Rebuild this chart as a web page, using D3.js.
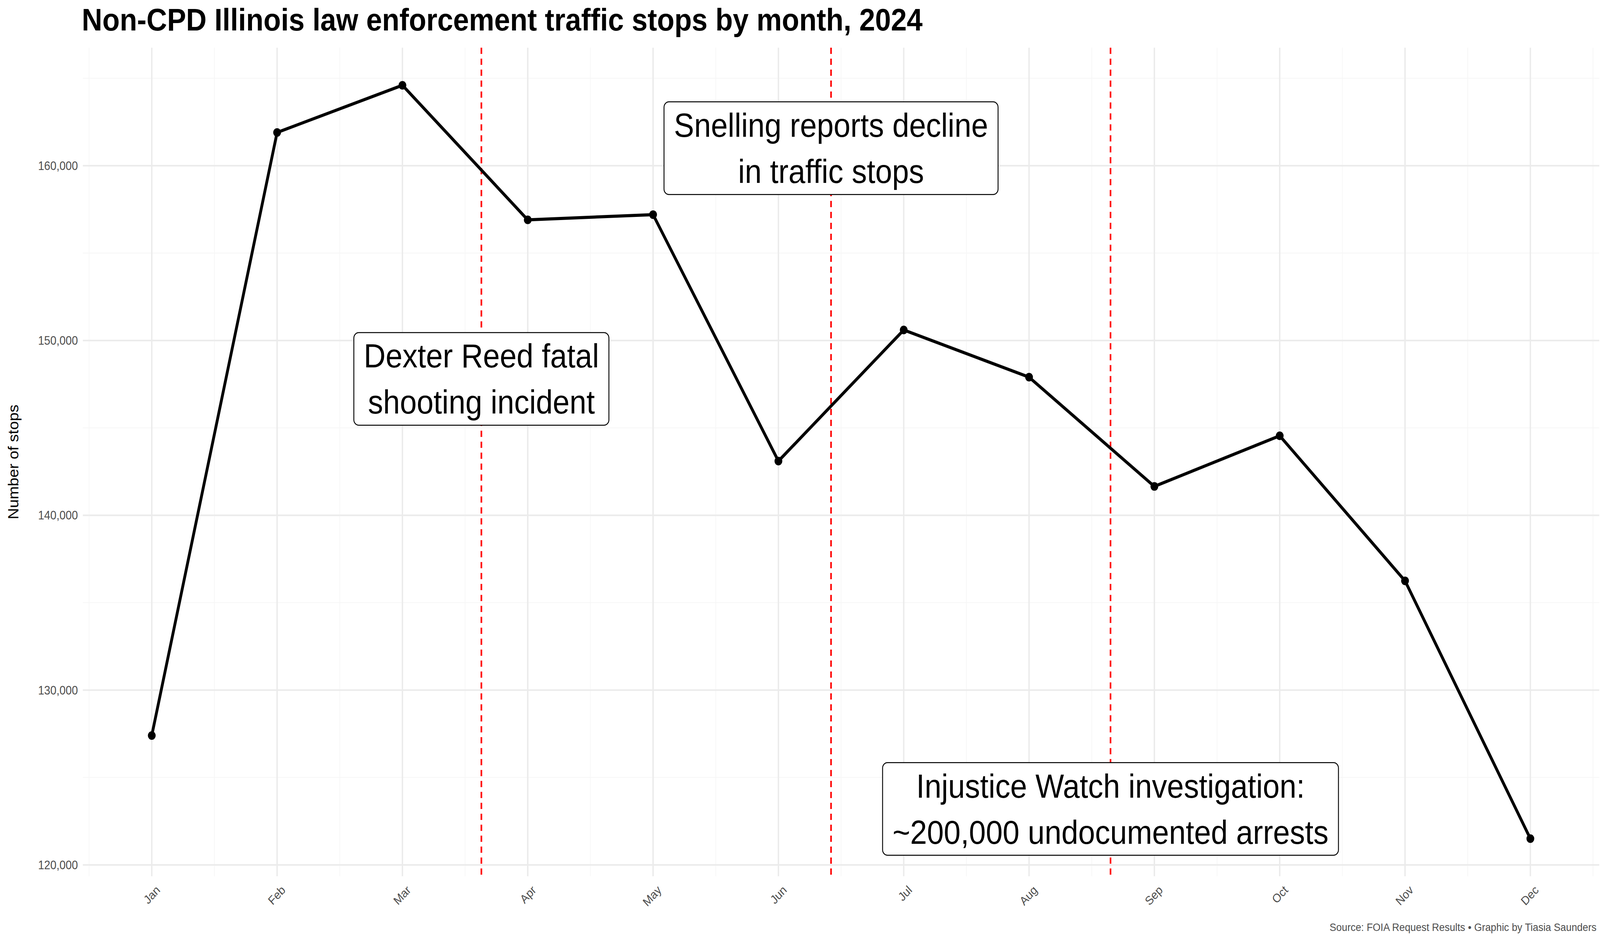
<!DOCTYPE html><html><head><meta charset="utf-8">
<script src="https://cdn.jsdelivr.net/npm/d3@7"></script>
<style>html,body{margin:0;padding:0;background:#fff;overflow:hidden}svg{display:block;width:100vw;height:100vh}text{font-family:"Liberation Sans",Arial,sans-serif}</style></head><body>
<script>
const months=["Jan","Feb","Mar","Apr","May","Jun","Jul","Aug","Sep","Oct","Nov","Dec"];
const stops=[127400,161900,164600,156900,157200,143100,150600,147900,141650,144550,136250,121500];
const eventPos=[2.63,5.42,7.65];
const yTicks=[120000,130000,140000,150000,160000];
const notes=[{x:2.63,y:147800,lines:["Dexter Reed fatal","shooting incident"]},
{x:5.42,y:161000,lines:["Snelling reports decline","in traffic stops"]},
{x:7.65,y:123200,lines:["Injustice Watch investigation:","~200,000 undocumented arrests"]}];
const W=4500,H=2400,L=233,R=4498,T=122,B=2242;
const svg=d3.select("body").append("svg").attr("viewBox",`0 0 ${W} ${H}`).attr("preserveAspectRatio","none");
const x=d3.scaleLinear().domain([-0.55,11.55]).range([L,R]);
const y=d3.scaleLinear().domain([119350,166750]).range([B,T]);
const g=svg.append("g");
d3.range(115000,170000,5000).filter(v=>v>=119350&&v<=166750&&v%10000!==0).forEach(v=>g.append("line").attr("x1",L).attr("x2",R).attr("y1",y(v)).attr("y2",y(v)).attr("stroke","#f6f6f6").attr("stroke-width",2));
d3.range(-0.5,12,1).forEach(v=>{if(v>=-0.55&&v<=11.55)g.append("line").attr("x1",x(v)).attr("x2",x(v)).attr("y1",T).attr("y2",B).attr("stroke","#f6f6f6").attr("stroke-width",2)});
yTicks.forEach(v=>g.append("line").attr("x1",L).attr("x2",R).attr("y1",y(v)).attr("y2",y(v)).attr("stroke","#ebebeb").attr("stroke-width",4));
months.forEach((m,i)=>g.append("line").attr("x1",x(i)).attr("x2",x(i)).attr("y1",T).attr("y2",B).attr("stroke","#ebebeb").attr("stroke-width",4));
yTicks.forEach(v=>svg.append("text").attr("x",L-14).attr("y",y(v)).attr("dy","0.35em").attr("text-anchor","end").attr("font-size",31).attr("fill","#4d4d4d").text(d3.format(",")(v)));
months.forEach((m,i)=>svg.append("text").attr("transform",`translate(${x(i)+10},${B+22}) rotate(-45)`).attr("text-anchor","end").attr("dy","0.7em").attr("font-size",31).attr("fill","#4d4d4d").text(m));
eventPos.forEach(p=>svg.append("line").attr("x1",x(p)).attr("x2",x(p)).attr("y1",T).attr("y2",B).attr("stroke","#ff0000").attr("stroke-width",4.5).attr("stroke-dasharray","16,12"));
svg.append("path").datum(stops).attr("fill","none").attr("stroke","#000").attr("stroke-width",8).attr("stroke-linejoin","round").attr("d",d3.line().x((d,i)=>x(i)).y(d=>y(d)));
svg.selectAll("circle").data(stops).join("circle").attr("cx",(d,i)=>x(i)).attr("cy",d=>y(d)).attr("r",11).attr("fill","#000");
notes.forEach(n=>{const gg=svg.append("g");const rect=gg.append("rect");
const t=gg.append("text").attr("text-anchor","middle").attr("font-size",85).attr("fill","#000");
n.lines.forEach((l,k)=>t.append("tspan").attr("x",x(n.x)).attr("y",y(n.y)+(k-0.5)*118).attr("dy","0.35em").text(l));
const b=t.node().getBBox();rect.attr("x",b.x-28).attr("y",b.y-12).attr("width",b.width+56).attr("height",b.height+24).attr("rx",14).attr("fill","#fff").attr("stroke","#000").attr("stroke-width",2.5);});
svg.append("text").attr("x",230).attr("y",78).attr("font-size",80).attr("font-weight","bold").text("Non-CPD Illinois law enforcement traffic stops by month, 2024");
svg.append("text").attr("transform",`translate(52,${(T+B)/2}) rotate(-90)`).attr("text-anchor","middle").attr("font-size",40).text("Number of stops");
svg.append("text").attr("x",4490).attr("y",2382).attr("text-anchor","end").attr("font-size",28).attr("fill","#4d4d4d").text("Source: FOIA Request Results • Graphic by Tiasia Saunders");
</script></body></html>
